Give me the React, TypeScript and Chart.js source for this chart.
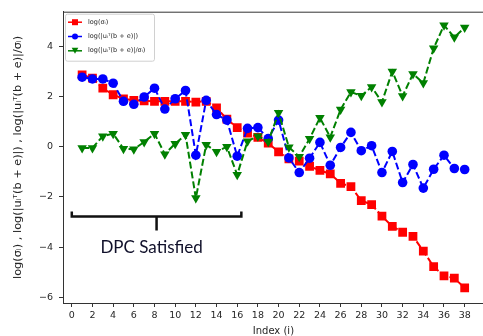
import React, { useEffect, useRef } from 'react';
import { Chart, registerables } from 'chart.js';

Chart.register(...registerables);

const indices = [1, 2, 3, 4, 5, 6, 7, 8, 9, 10, 11, 12, 13, 14, 15, 16, 17, 18, 19, 20, 21, 22, 23, 24, 25, 26, 27, 28, 29, 30, 31, 32, 33, 34, 35, 36, 37, 38];
const logSigma = [2.86, 2.73, 2.33, 2.07, 1.91, 1.85, 1.83, 1.81, 1.81, 1.81, 1.81, 1.78, 1.81, 1.55, 1.1, 0.76, 0.54, 0.37, 0.14, -0.21, -0.49, -0.58, -0.78, -0.94, -1.08, -1.46, -1.59, -2.15, -2.31, -2.77, -3.18, -3.41, -3.57, -4.16, -4.78, -5.15, -5.24, -5.63];
const logProj = [2.77, 2.7, 2.7, 2.53, 1.81, 1.69, 1.98, 2.33, 1.5, 1.91, 2.24, -0.34, 1.85, 1.28, 1.06, -0.38, 0.73, 0.76, 0.32, 1.06, -0.45, -1.03, -0.46, 0.17, -0.74, -0.03, 0.57, -0.16, 0.04, -1.03, -0.19, -1.43, -0.71, -1.65, -0.9, -0.34, -0.87, -0.91];
const logRatio = [-0.05, -0.05, 0.42, 0.52, -0.08, -0.1, 0.19, 0.52, -0.3, 0.12, 0.48, -2.05, 0.08, -0.2, 0.0, -1.12, 0.22, 0.42, 0.2, 1.35, -0.02, -0.4, 0.32, 1.15, 0.38, 1.48, 2.18, 2.03, 2.38, 1.78, 3.0, 2.02, 2.9, 2.54, 3.92, 4.84, 4.36, 4.75];

const xTicks = [0, 2, 4, 6, 8, 10, 12, 14, 16, 18, 20, 22, 24, 26, 28, 30, 32, 34, 36, 38];
const yTicks = [-6, -4, -2, 0, 2, 4];

const seriesLabels = ['log(σᵢ)', 'log(|uᵢᵀ(b + e)|)', 'log(|uᵢᵀ(b + e)|/σᵢ)'];
const seriesColors = ['#ff0000', '#0000ff', '#008000'];
const yTitle = 'log(σᵢ) , log(|uᵢᵀ(b + e)|) , log(|uᵢᵀ(b + e)|/σᵢ)';
const xTitle = 'Index (i)';
const bracketLabel = 'DPC Satisfied';
const bracketFrom = 0;
const bracketTo = 16.4;
const bracketLevel = -2.78;

const TEXT = '#262626';

function drawMarker(ctx: CanvasRenderingContext2D, kind: number, x: number, y: number, s: number) {
  ctx.beginPath();
  if (kind === 0) {
    ctx.rect(x - s, y - s, 2 * s, 2 * s);
  } else if (kind === 1) {
    ctx.arc(x, y, s, 0, Math.PI * 2);
  } else {
    ctx.moveTo(x - s * 1.1, y - s);
    ctx.lineTo(x + s * 1.1, y - s);
    ctx.lineTo(x, y + s);
    ctx.closePath();
  }
  ctx.fill();
}

const extrasPlugin = {
  id: 'extras',
  afterDraw(chart: any) {
    const { ctx, chartArea, scales } = chart;
    const xs = scales.x;
    const ys = scales.y;
    ctx.save();
    // top spine
    ctx.strokeStyle = '#333333';
    ctx.lineWidth = 1;
    ctx.beginPath();
    ctx.moveTo(chartArea.left, chartArea.top + 0.5);
    ctx.lineTo(chartArea.right, chartArea.top + 0.5);
    ctx.stroke();

    // bracket annotation
    const x1 = xs.getPixelForValue(bracketFrom);
    const x2 = xs.getPixelForValue(bracketTo);
    const xm = (x1 + x2) / 2;
    const yb = ys.getPixelForValue(bracketLevel);
    ctx.strokeStyle = '#111111';
    ctx.lineWidth = 2.5;
    ctx.lineCap = 'butt';
    ctx.beginPath();
    ctx.moveTo(x1, yb - 5);
    ctx.lineTo(x1, yb);
    ctx.lineTo(x2, yb);
    ctx.lineTo(x2, yb - 5);
    ctx.moveTo(xm, yb);
    ctx.lineTo(xm, yb + 14);
    ctx.stroke();
    ctx.fillStyle = '#10102a';
    ctx.font = '17px Lato, "Open Sans", sans-serif';
    ctx.textAlign = 'center';
    ctx.textBaseline = 'middle';
    ctx.fillText(bracketLabel, xm - 5, yb + 31);

    // legend
    const lx = chartArea.left + 2;
    const ly = chartArea.top + 2;
    const lw = 89;
    const lh = 47;
    ctx.fillStyle = 'rgba(255,255,255,0.85)';
    ctx.strokeStyle = '#d0d0d0';
    ctx.lineWidth = 1;
    ctx.beginPath();
    (ctx as any).roundRect(lx + 0.5, ly + 0.5, lw, lh, 2);
    ctx.fill();
    ctx.stroke();
    for (let i = 0; i < 3; i++) {
      const cy = ly + 8.5 + i * 14.3;
      ctx.strokeStyle = seriesColors[i];
      ctx.fillStyle = seriesColors[i];
      ctx.lineWidth = 1.5;
      ctx.beginPath();
      ctx.moveTo(lx + 3, cy);
      ctx.lineTo(lx + 17, cy);
      ctx.stroke();
      drawMarker(ctx, i, lx + 10, cy, 3);
      ctx.fillStyle = TEXT;
      ctx.font = '6.5px "DejaVu Sans", sans-serif';
      ctx.textAlign = 'left';
      ctx.textBaseline = 'middle';
      ctx.fillText(seriesLabels[i], lx + 23, cy);
    }
    ctx.restore();
  },
};

export default function App() {
  const canvasRef = useRef<HTMLCanvasElement | null>(null);

  useEffect(() => {
    document.body.style.margin = '0';
    const canvas = canvasRef.current;
    if (!canvas) return;
    const mk = (vals: number[]) => indices.map((x, i) => ({ x, y: vals[i] }));
    const common = {
      borderWidth: 2,
      borderDash: [7, 3],
      fill: false,
      tension: 0,
    };
    const chart = new Chart(canvas, {
      type: 'line',
      data: {
        datasets: [
          {
            ...common,
            label: seriesLabels[0],
            data: mk(logSigma),
            borderColor: seriesColors[0],
            backgroundColor: seriesColors[0],
            pointBackgroundColor: seriesColors[0],
            pointBorderWidth: 0,
            pointStyle: 'rect',
            pointRadius: 6.2,
            order: 3,
          },
          {
            ...common,
            label: seriesLabels[1],
            data: mk(logProj),
            borderColor: seriesColors[1],
            backgroundColor: seriesColors[1],
            pointBackgroundColor: seriesColors[1],
            pointBorderWidth: 0,
            pointStyle: 'circle',
            pointRadius: 4.8,
            order: 2,
          },
          {
            ...common,
            label: seriesLabels[2],
            data: mk(logRatio),
            borderColor: seriesColors[2],
            backgroundColor: seriesColors[2],
            pointBackgroundColor: seriesColors[2],
            pointBorderWidth: 0,
            pointStyle: 'triangle',
            pointRotation: 180,
            pointRadius: 5.5,
            order: 1,
          },
        ],
      },
      options: {
        responsive: false,
        animation: false,
        events: [],
        layout: { padding: { top: 10, right: 5, left: 0, bottom: 0 } },
        plugins: {
          legend: { display: false },
          tooltip: { enabled: false },
        },
        scales: {
          x: {
            type: 'linear',
            min: -0.85,
            max: 39.85,
            afterFit: (s: any) => { s.height = 33; },
            afterBuildTicks: (s: any) => { s.ticks = xTicks.map((v) => ({ value: v })); },
            grid: { display: true, drawOnChartArea: false, drawTicks: true, tickLength: 4, color: '#333333' },
            border: { display: true, color: '#333333', width: 1 },
            ticks: {
              autoSkip: false,
              maxRotation: 0,
              padding: 3,
              color: TEXT,
              font: { family: '"DejaVu Sans", sans-serif', size: 9.5 },
              callback: (v: any) => String(v),
            },
            title: {
              display: true,
              text: xTitle,
              color: TEXT,
              font: { family: '"DejaVu Sans", sans-serif', size: 10 },
              padding: { top: 0, bottom: -1 },
            },
          },
          y: {
            type: 'linear',
            min: -6.23,
            max: 5.38,
            afterFit: (s: any) => { s.width = 63; },
            afterBuildTicks: (s: any) => { s.ticks = yTicks.map((v) => ({ value: v })); },
            grid: { display: true, drawOnChartArea: false, drawTicks: true, tickLength: 4, color: '#333333' },
            border: { display: true, color: '#333333', width: 1 },
            ticks: {
              padding: 6,
              color: TEXT,
              font: { family: '"DejaVu Sans", sans-serif', size: 9.5 },
              callback: (v: any) => (v < 0 ? '−' + Math.abs(v) : String(v)),
            },
            title: {
              display: true,
              text: yTitle,
              color: TEXT,
              font: { family: '"DejaVu Sans", sans-serif', size: 11.3 },
              padding: { top: 11, bottom: 0 },
            },
          },
        },
      },
      plugins: [extrasPlugin],
    } as any);
    return () => chart.destroy();
  }, []);

  return (
    <div style={{ position: 'fixed', left: 0, top: 0, width: 483, height: 336, overflow: 'hidden', background: '#fff' }}>
      <canvas ref={canvasRef} width={490} height={336} style={{ display: 'block' }} />
    </div>
  );
}
